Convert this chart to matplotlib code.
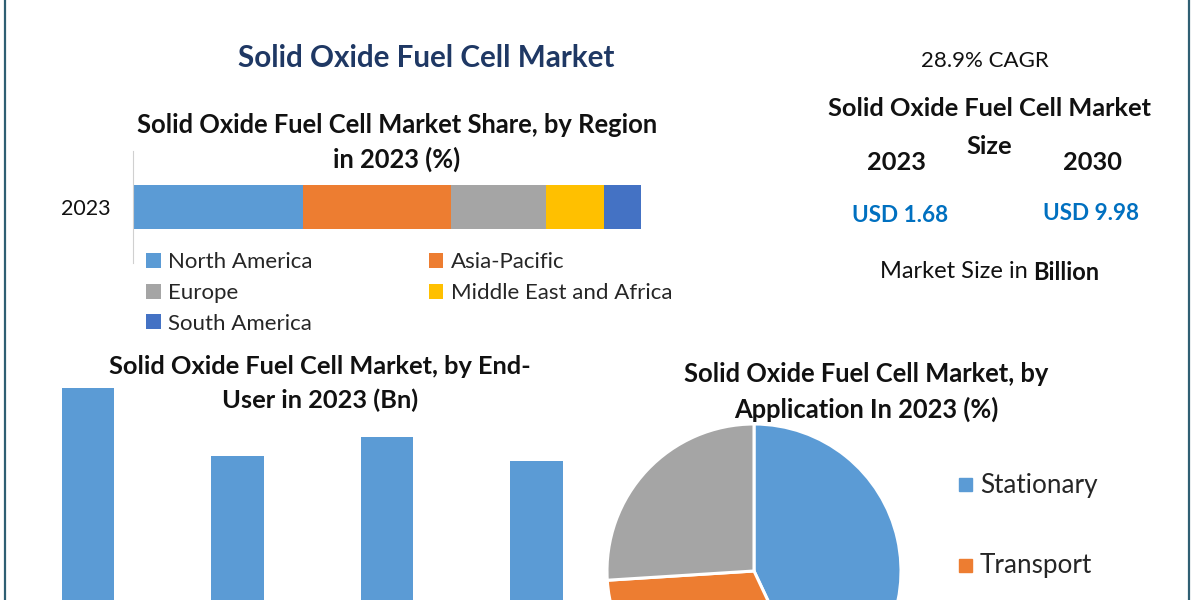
import matplotlib
matplotlib.use("Agg")
import matplotlib.pyplot as plt
from matplotlib.lines import Line2D

plt.rcParams['font.family'] = ['Lato', 'DejaVu Sans']

W, H = 1200, 600

region_year = "2023"
regions = ["North America", "Asia-Pacific", "Europe", "Middle East and Africa", "South America"]
region_share = [33.5, 29.1, 18.7, 11.4, 7.3]
region_colors = ["#5B9BD5", "#ED7D31", "#A5A5A5", "#FFC000", "#4472C4"]

end_user_pos = [0, 1, 2, 3]
end_user_values = [0.514, 0.380, 0.418, 0.371]

applications = ["Stationary", "Transport", "Portable"]
application_share = [43, 31, 26]
application_colors = ["#5B9BD5", "#ED7D31", "#A5A5A5"]
application_legend = ["Stationary", "Transport"]

def px_axes(left, top, right, bottom):
    return fig.add_axes([left / W, 1 - bottom / H, (right - left) / W, (bottom - top) / H])

def px_text(x, y, s, **kw):
    kw.setdefault("ha", "center")
    kw.setdefault("va", "center")
    kw.setdefault("color", "#111111")
    return fig.text(x / W, 1 - y / H, s, **kw)

fig = plt.figure(figsize=(12, 6), dpi=100, facecolor="white")

# frame
for x in (5, 1189):
    fig.add_artist(Line2D([x / W, x / W], [0, 1], color="#2F5F73", lw=1.6))

# stacked bar
ax1 = px_axes(133, 151, 641, 263)
left = 0
handles = {}
for name, val, col in zip(regions, region_share, region_colors):
    handles[name] = ax1.barh([region_year], [val], left=left, height=0.393, color=col, label=name)
    left += val
ax1.set_xlim(0, sum(region_share))
ax1.set_ylim(-0.5, 0.5)
ax1.set_xticks([])
ax1.tick_params(axis="y", length=0, labelsize=15.5, pad=16, labelcolor="#111111")
for s in ("top", "right", "bottom"):
    ax1.spines[s].set_visible(False)
ax1.spines["left"].set_color("#d0d0d0")
order = ["North America", "Europe", "South America", "Asia-Pacific", "Middle East and Africa"]
fig.legend([handles[n] for n in order], order, ncols=2, frameon=False,
           loc="upper left", bbox_to_anchor=(146 / W, 1 - 252 / H),
           fontsize=16, handlelength=0.66, handleheight=0.66, handletextpad=0.35,
           columnspacing=5.2, labelspacing=0.49, borderpad=0, borderaxespad=0,
           labelcolor="#262626")

# bars (cut off by the lower edge of the image)
ax2 = px_axes(0, 380, 600, 600)
ax2.bar(end_user_pos, end_user_values, width=0.35, color="#5B9BD5")
ax2.set_xlim(-88 / 149.5, (600 - 88) / 149.5)
ax2.set_ylim(0.098, 0.529)
ax2.axis("off")

# pie (cut off by the lower edge of the image)
ax3 = px_axes(607, 424, 901, 718)
ax3.pie(application_share, colors=application_colors, startangle=90, counterclock=False,
        radius=1.0, wedgeprops=dict(edgecolor="white", linewidth=2.2))
ax3.set_xlim(-1, 1)
ax3.set_ylim(-1, 1)
for y, name, col in zip((485, 566), application_legend, application_colors):
    fig.patches.append(plt.Rectangle((959 / W, 1 - (y + 6) / H), 13 / W, 13 / H,
                                     transform=fig.transFigure, color=col))
    px_text(980, y, name, ha="left", fontsize=18.8, color="#262626")

# titles
px_text(426, 58, "Solid Oxide Fuel Cell Market", fontsize=21.3, fontweight="bold", color="#1F3864")
px_text(397, 125, "Solid Oxide Fuel Cell Market Share, by Region", fontsize=18.4, fontweight="bold")
px_text(397, 159, "in 2023 (%)", fontsize=18.4, fontweight="bold")
px_text(320, 366, "Solid Oxide Fuel Cell Market, by End-", fontsize=18.3, fontweight="bold")
px_text(320, 400, "User in 2023 (Bn)", fontsize=18.3, fontweight="bold")
px_text(866, 374, "Solid Oxide Fuel Cell Market, by", fontsize=18.4, fontweight="bold")
px_text(866, 409, "Application In 2023 (%)", fontsize=18.4, fontweight="bold")

# right-hand summary
px_text(985, 61, "28.9% CAGR", fontsize=16)
px_text(989, 109, "Solid Oxide Fuel Cell Market", fontsize=18.3, fontweight="bold")
px_text(989, 146, "Size", fontsize=18.3, fontweight="bold")
px_text(896, 162, "2023", fontsize=18.3, fontweight="bold")
px_text(1092, 162, "2030", fontsize=18.3, fontweight="bold")
px_text(900, 215, "USD 1.68", fontsize=16.2, fontweight="bold", color="#0070C0")
px_text(1091, 214, "USD 9.98", fontsize=16.2, fontweight="bold", color="#0070C0")
px_text(1028, 272, "Market Size in", ha="right", fontsize=17)
px_text(1033, 272, "Billion", ha="left", fontsize=17, fontweight="bold")

fig.savefig("out.png", dpi=100, facecolor="white")
